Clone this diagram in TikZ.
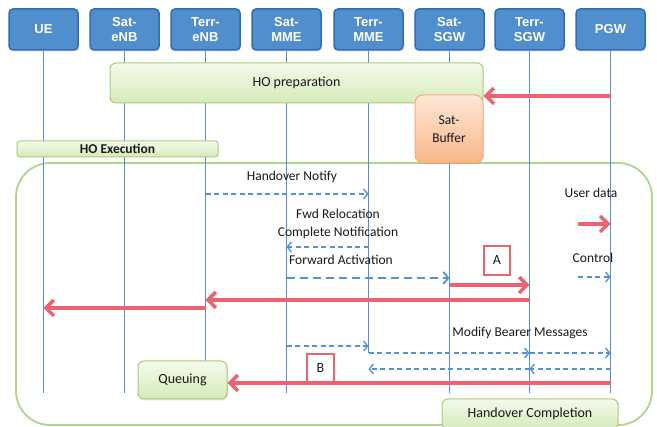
\documentclass[tikz,border=0pt]{standalone}
\usepackage{fontspec}
\setmainfont{Carlito}
\newfontfamily\hdrfont{Liberation Sans}
\usetikzlibrary{arrows.meta,shadows,calc}
\definecolor{hdrfill}{RGB}{80,142,206}
\definecolor{hdrdraw}{RGB}{50,108,178}
\definecolor{life}{RGB}{85,142,208}
\definecolor{ctrl}{RGB}{85,145,215}
\definecolor{usr}{RGB}{236,98,110}
\definecolor{grnA}{RGB}{244,250,235}
\definecolor{grnB}{RGB}{214,234,186}
\definecolor{grnD}{RGB}{163,205,118}
\definecolor{orA}{RGB}{253,232,215}
\definecolor{orB}{RGB}{249,182,136}
\definecolor{orD}{RGB}{244,172,125}
\definecolor{txt}{RGB}{25,25,25}
\begin{document}
\begin{tikzpicture}[x=1pt,y=-1pt,
  hdr/.style={draw=hdrdraw, line width=1.5pt, fill=hdrfill, rounded corners=4pt,
    minimum width=69pt, minimum height=41pt, inner sep=0pt, align=center, text=white,
    font=\hdrfont\bfseries\fontsize{13}{14.5}\selectfont,
    drop shadow={shadow xshift=1pt, shadow yshift=-1.5pt, opacity=0.25}},
  gbox/.style={draw=grnD, line width=1pt, top color=grnA, bottom color=grnB,
    inner sep=0pt, text=txt, font=\fontsize{14}{16}\selectfont},
  obox/.style={draw=orD, line width=1pt, top color=orA, bottom color=orB,
    rounded corners=8pt, inner sep=0pt, align=center, text=txt,
    font=\fontsize{13.5}{18}\selectfont,
    drop shadow={shadow xshift=1pt, shadow yshift=-1.5pt, opacity=0.2}},
  rbox/.style={draw=usr, line width=1.5pt, fill=white, inner sep=0pt,
    minimum width=26pt, minimum height=29pt, text=txt, font=\fontsize{14}{16}\selectfont},
  lifeline/.style={draw=life, line width=1.1pt},
  lbl/.style={text=txt, inner sep=0pt, align=center, font=\fontsize{13.5}{18}\selectfont},
  usrdata/.style={draw=usr, line width=4pt,
    -{Straight Barb[length=8pt,width=16pt,line width=3.5pt]}},
  ctl/.style={draw=ctrl, line width=1.4pt, dash pattern=on 5pt off 3.5pt,
    -{Straight Barb[length=4pt,width=10pt,line width=1.4pt]}},
  ctlthick/.style={draw=ctrl, line width=2.6pt, dash pattern=on 8pt off 5pt,
    -{Straight Barb[length=5pt,width=12pt,line width=1.8pt]}}
]
\clip (0,0) rectangle (657,427);
\fill[white] (0,0) rectangle (657,427);

% execution frame
\draw[draw=grnD!85, line width=1.8pt, rounded corners=34pt] (16,163) rectangle (652,425);

% headers
\node[hdr] (ue)   at (43.5,29.5)  {UE};
\node[hdr] (senb) at (124.5,29.5) {Sat-\\eNB};
\node[hdr] (tenb) at (205.5,29.5) {Terr-\\eNB};
\node[hdr] (smme) at (286.5,29.5) {Sat-\\MME};
\node[hdr] (tmme) at (368.5,29.5) {Terr-\\MME};
\node[hdr] (ssgw) at (449.5,29.5) {Sat-\\SGW};
\node[hdr] (tsgw) at (529.5,29.5) {Terr-\\SGW};
\node[hdr] (pgw)  at (610.5,29.5) {PGW};

% lifelines
\foreach \n in {ue,senb,tenb,smme,ssgw,tsgw,pgw}
  \draw[lifeline] (\n.south) -- (\n |- 0,393);
\draw[lifeline] (tmme.south) -- (tmme |- 0,353);

% phase boxes
\node[gbox, rounded corners=6pt, minimum width=373pt, minimum height=40pt] (hoprep) at (296.5,83) {HO preparation};
\node[obox, minimum width=68pt, minimum height=68pt] (buf) at (449,129) {Sat-\\Buffer};
\node[gbox, rounded corners=3pt, minimum width=201pt, minimum height=16pt, font=\bfseries\fontsize{13.5}{15}\selectfont] (hoexec) at (117.5,149) {HO Execution};
\node[gbox, rounded corners=6pt, minimum width=89pt, minimum height=38pt,
  drop shadow={shadow xshift=1pt, shadow yshift=-1.5pt, opacity=0.2}] (queue) at (182.5,380) {Queuing};
\node[gbox, rounded corners=6pt, minimum width=176pt, minimum height=30pt] (hocomp) at (530,414) {Handover Completion};

% HO preparation data
\draw[usrdata] (pgw |- 0,96) -- (hoprep.east |- 0,96);

% labels
\node[lbl] (lhn)  at (292,177) {Handover Notify};
\node[lbl] (lfwd) at (338,224) {Fwd Relocation\\Complete Notification};
\node[lbl] (lfa)  at (341,260) {Forward Activation};
\node[lbl] (lmb)  at (520,333) {Modify Bearer Messages};
\node[lbl] (lud)  at (591,193) {User data};
\node[lbl] (lct)  at (593,258) {Control};

% control messages
\draw[ctl] (tenb |- 0,194) -- (tmme |- 0,194);
\draw[ctl] (tmme |- 0,247) -- (smme |- 0,247);
\draw[ctlthick] (smme |- 0,278) -- (ssgw |- 0,278);
\draw[ctl] (smme |- 0,346) -- (tmme |- 0,346);
\draw[ctl] (tmme |- 0,353) -- (tsgw |- 0,353);
\draw[ctl] (tsgw |- 0,353) -- (pgw |- 0,353);
\draw[ctl] (pgw |- 0,369) -- (tsgw |- 0,369);
\draw[ctl] (tsgw |- 0,369) -- (tmme |- 0,369);

% legend
\coordinate (lgu) at (578,224);
\coordinate (lgc) at (578,277);
\draw[usrdata] (lgu) -- (pgw |- lgu);
\draw[ctl] (lgc) -- (pgw |- lgc);

% data path
\node[rbox] (A) at (497,260.5) {A};
\draw[usrdata] (ssgw |- 0,285) -- (tsgw |- 0,285);
\draw[usrdata] (tsgw |- 0,300) -- (tenb |- 0,300);
\draw[usrdata] (tenb |- 0,308) -- (ue |- 0,308);
\node[rbox, minimum width=27pt] (B) at (320.5,368.5) {B};
\draw[usrdata] (pgw |- 0,383) -- (queue.east |- 0,383);
\end{tikzpicture}
\end{document}
